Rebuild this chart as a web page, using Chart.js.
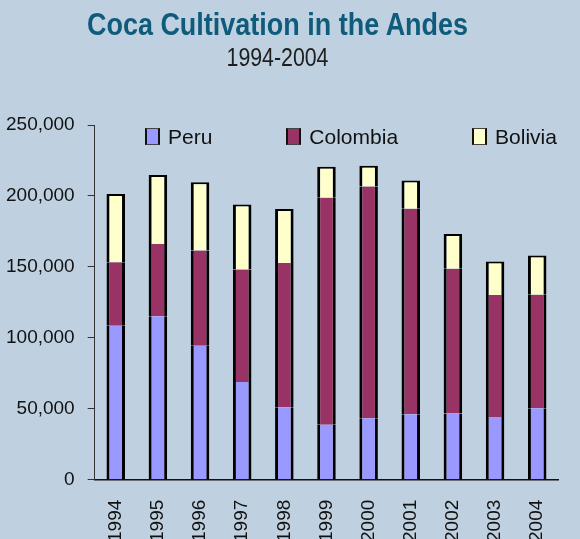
<!DOCTYPE html>
<html>
<head>
<meta charset="utf-8">
<script src="https://cdn.jsdelivr.net/npm/chart.js@4.4.1/dist/chart.umd.min.js"></script>
<style>
    html, body { margin: 0; padding: 0; background: #bfd1e0; overflow: hidden; }
    #wrap { position: relative; width: 580px; height: 539px; overflow: hidden; background: #bfd1e0; }
    #chartCoca { position: absolute; left: 0; top: 0; }
    .chart-title, .chart-subtitle {
        position: absolute; left: 0; width: 555px; text-align: center;
        font-family: 'Liberation Sans', Arial, sans-serif;
        white-space: nowrap; transform-origin: 50% 50%;
    }
    /* the original uses a condensed face, squeeze the regular one */
    .chart-title { top: 9px; font-size: 31px; line-height: 31px; font-weight: bold; color: #0f5b7c; transform: scaleX(0.87); }
    .chart-subtitle { top: 44px; font-size: 26px; line-height: 26px; color: #1e1e1e; transform: scaleX(0.82); }
    #legend {
        position: absolute; left: 145px; top: 125px; display: flex; gap: 74px;
        font-family: 'Liberation Sans', Arial, sans-serif;
        font-size: 21px; line-height: 23px; color: #111;
    }
    .legend-item { display: flex; align-items: center; white-space: nowrap; }
    .legend-box {
        width: 15px; height: 17px; box-sizing: border-box; margin-right: 8px;
        border-left: 2px solid #111; border-right: 2px solid #111;
        border-top: 1px solid #444; border-bottom: 1px solid #444;
    }
</style>
</head>
<body>
<div id="wrap">
    <canvas id="chartCoca" width="580" height="562"></canvas>
    <div class="chart-title">Coca Cultivation in the Andes</div>
    <div class="chart-subtitle">1994-2004</div>
    <div id="legend"></div>
</div>
<script>
// Hectares under coca cultivation
const years = ['1994', '1995', '1996', '1997', '1998', '1999', '2000', '2001', '2002', '2003', '2004'];
const peru = [108600, 115300, 94400, 68800, 51000, 38700, 43400, 46200, 46700, 44200, 50300];
const colombia = [44700, 50900, 67200, 79400, 101800, 160100, 163300, 144800, 102000, 86000, 80000];
const bolivia = [48100, 48600, 48100, 45800, 38000, 21800, 14600, 19900, 24400, 23600, 27700];
const seriesNames = ['Peru', 'Colombia', 'Bolivia'];
const seriesColors = ['#9999ff', '#993366', '#ffffcc'];
const yTicks = [0, 50000, 100000, 150000, 200000, 250000];

(function () {
    const sans = "'Liberation Sans', Arial, sans-serif";
    const seriesValues = [peru, colombia, bolivia];

    const datasets = seriesNames.map((name, index) => ({
        label: name,
        data: seriesValues[index],
        backgroundColor: seriesColors[index],
        borderColor: '#000',
        // only the top segment gets a lid, every segment gets side walls
        borderWidth: { left: 3, right: 3, top: index === seriesNames.length - 1 ? 2 : 0, bottom: 0 },
        borderSkipped: false,
        barPercentage: 0.44,
        categoryPercentage: 1
    }));

    new Chart(document.getElementById('chartCoca'), {
        type: 'bar',
        data: { labels: years, datasets: datasets },
        options: {
            responsive: false,
            animation: false,
            devicePixelRatio: 1,
            // tick padding is reserved on both sides of the labels, so pull the left edge back in
            layout: { padding: { left: -7, top: 125, right: 0, bottom: 0 } },
            plugins: {
                legend: { display: false },
                title: { display: false },
                tooltip: { enabled: false }
            },
            scales: {
                x: {
                    stacked: true,
                    grid: { display: false, drawTicks: false },
                    border: { display: true, color: '#111', width: 1.5 },
                    ticks: {
                        autoSkip: false,
                        minRotation: 90,
                        maxRotation: 90,
                        padding: 20,
                        color: '#111',
                        font: { family: sans, size: 19 }
                    }
                },
                y: {
                    stacked: true,
                    min: yTicks[0],
                    max: yTicks[yTicks.length - 1],
                    afterBuildTicks: scale => {
                        scale.ticks = yTicks.map(value => ({ value }));
                    },
                    grid: { drawOnChartArea: false, drawTicks: true, tickLength: 7, color: '#333' },
                    border: { display: true, color: '#333', width: 1 },
                    ticks: {
                        padding: 13,
                        color: '#111',
                        font: { family: sans, size: 19 },
                        callback: value => Number(value).toLocaleString('en-US')
                    }
                }
            }
        }
    });

    // Legend sits inside the plot area like the original, so build it as html
    const legend = document.getElementById('legend');
    seriesNames.forEach((name, index) => {
        const item = document.createElement('span');
        item.className = 'legend-item';
        const box = document.createElement('span');
        box.className = 'legend-box';
        box.style.background = seriesColors[index];
        item.appendChild(box);
        item.appendChild(document.createTextNode(name));
        legend.appendChild(item);
    });
})();
</script>
</body>
</html>
